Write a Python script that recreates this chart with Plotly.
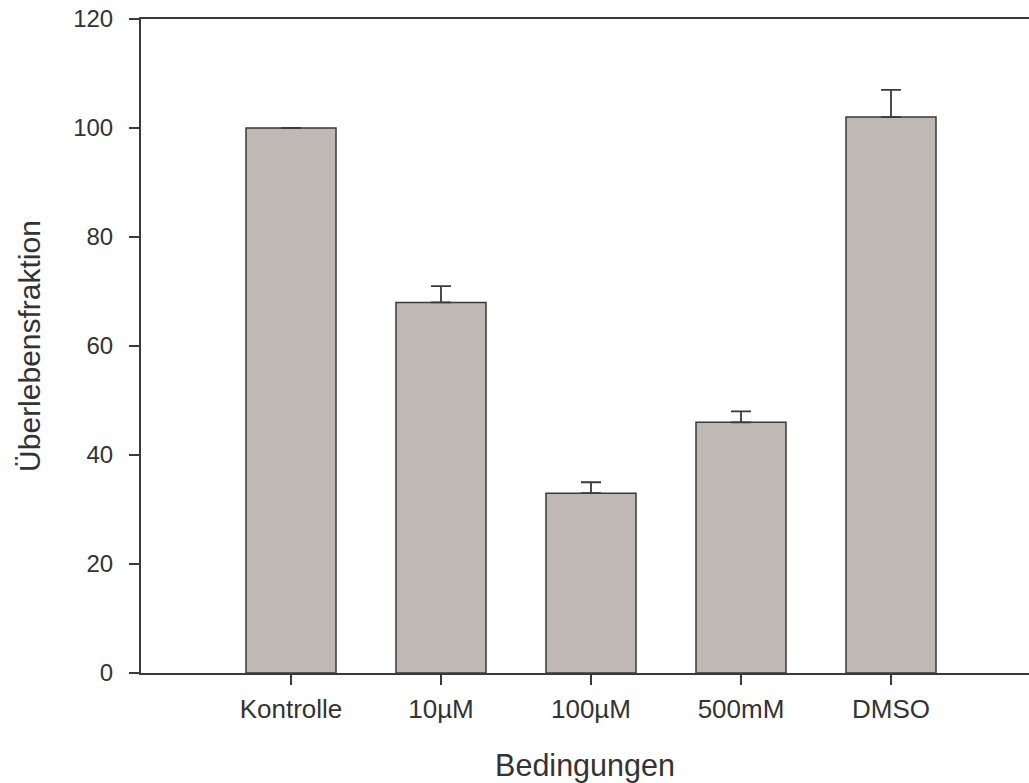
import plotly.graph_objects as go

categories = ["Kontrolle", "10µM", "100µM", "500mM", "DMSO"]
values = [100, 68, 33, 46, 102]
errors_plus = [None, 3, 2, 2, 5]

positions = list(range(len(categories)))

fig = go.Figure()
fig.add_trace(go.Bar(
    x=positions, y=values, width=0.6,
    marker=dict(color="#c0b8b5", line=dict(color="#3a3a3a", width=1.5)),
    error_y=dict(type="data", symmetric=False, array=errors_plus,
                 arrayminus=[0] * len(values), color="#3a3a3a", thickness=1.8, width=10),
))

FAM = "Liberation Sans, Arial, sans-serif"
fig.update_layout(
    width=1029, height=783,
    margin=dict(l=141, r=0, t=19, b=110),
    plot_bgcolor="white", paper_bgcolor="white",
    showlegend=False,
    font=dict(family=FAM, size=24, color="#333333"),
)
fig.update_xaxes(
    range=[-1, 4.92], tickvals=positions, ticktext=categories,
    tickfont=dict(family=FAM, size=26, color="#333333"),
    ticklabelstandoff=2,
    showline=True, linecolor="#3a3a3a", linewidth=2, mirror=True,
    ticks="outside", ticklen=10, tickwidth=2, tickcolor="#3a3a3a",
    showgrid=False, zeroline=False,
    title=dict(text="Bedingungen", font=dict(family=FAM, size=30.5, color="#333333"), standoff=32),
)
fig.update_yaxes(
    range=[0, 120], tickvals=[0, 20, 40, 60, 80, 100, 120],
    tickfont=dict(family=FAM, size=24, color="#333333"),
    ticklabelstandoff=11,
    showline=True, linecolor="#3a3a3a", linewidth=2,
    ticks="outside", ticklen=10, tickwidth=2, tickcolor="#3a3a3a",
    showgrid=False, zeroline=False,
    title=dict(text="Überlebensfraktion", font=dict(family=FAM, size=30, color="#333333"), standoff=24),
)
fig.write_html("out.html")
